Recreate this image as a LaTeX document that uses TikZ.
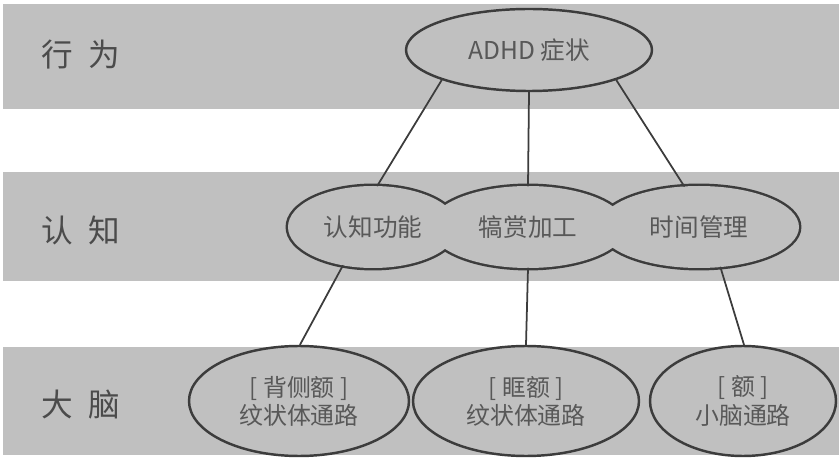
\documentclass[tikz,border=0pt]{standalone}
\usepackage{fontspec}
\setmainfont{Noto Sans CJK SC}
\newfontfamily\layerfont{Noto Sans CJK SC}[WordSpace=2.2]
\usetikzlibrary{shapes.geometric}
\definecolor{bandgray}{HTML}{C0C0C0}
\definecolor{inkgray}{HTML}{3C3C3C}
\definecolor{textgray}{HTML}{585858}

\begin{document}
\begin{tikzpicture}[line cap=round, line join=round,
  blob/.style={ellipse, inner sep=0pt, draw=inkgray, fill=bandgray, line width=1.4pt,
    text=textgray, align=center, font=\fontsize{13.6}{16}\selectfont},
  flat/.style={ellipse, inner sep=0pt, text=textgray, font=\fontsize{14}{16}\selectfont},
  layer/.style={text=textgray!85!black, font=\layerfont\fontsize{18}{20}\selectfont},
  link/.style={draw=inkgray, line width=1pt}]
  \useasboundingbox (0,0) rectangle (16.78,9.18);

  % Grey bands
  \fill[bandgray] (0.06,7.00) rectangle (16.78,9.10);
  \fill[bandgray] (0.06,3.56) rectangle (16.78,5.74);
  \fill[bandgray] (0.06,0.08) rectangle (16.78,2.24);

  % Centres of the middle row
  \coordinate (K1) at (7.46,4.64);
  \coordinate (K2) at (10.56,4.64);
  \coordinate (K3) at (13.98,4.64);

  % Middle row: outlines first, filled over so one joined border is left
  \foreach \c/\r in {K1/1.70, K2/1.96, K3/2.00}
    \draw[draw=inkgray, line width=2.8pt] (\c) ellipse ({\r} and 0.82);
  \foreach \c/\r in {K1/1.70, K2/1.96, K3/2.00}
    \fill[bandgray] (\c) ellipse ({\r} and 0.82);

  % Nodes
  \node[blob, font=\fontsize{14}{16}\selectfont, minimum width=4.92cm, minimum height=1.64cm] (adhd) at (10.58,8.18) {ADHD 症状};
  \node[flat, minimum width=3.40cm, minimum height=1.64cm] (cog) at (K1) {认知功能};
  \node[flat, minimum width=3.92cm, minimum height=1.64cm] (reward) at (K2) {犒赏加工};
  \node[flat, minimum width=4.00cm, minimum height=1.64cm] (timing) at (K3) {时间管理};
  \node[blob, minimum width=4.40cm, minimum height=2.20cm] (dlpfc) at (5.98,1.16) {[ 背侧额 ]\\纹状体通路};
  \node[blob, minimum width=4.52cm, minimum height=2.20cm] (ofc) at (10.52,1.16) {[ 眶额 ]\\纹状体通路};
  \node[blob, minimum width=3.72cm, minimum height=2.20cm] (cereb) at (14.86,1.16) {[ 额 ]\\小脑通路};

  % Links
  \draw[link] (adhd.199) -- (cog.84);
  \draw[link] (adhd.270) -- (reward.90);
  \draw[link] (adhd.341) -- (timing.110);
  \draw[link] (cog.232) -- (dlpfc.89);
  \draw[link] (reward.270) -- (ofc.90);
  \draw[link] (timing.298) -- (cereb.89);

  % Level labels
  \node[layer] (lbeh) at (1.62,8.08) {行 为};
  \node[layer] (lcog) at (1.62,4.58) {认 知};
  \node[layer] (lbrain) at (1.62,1.08) {大 脑};
\end{tikzpicture}
\end{document}
